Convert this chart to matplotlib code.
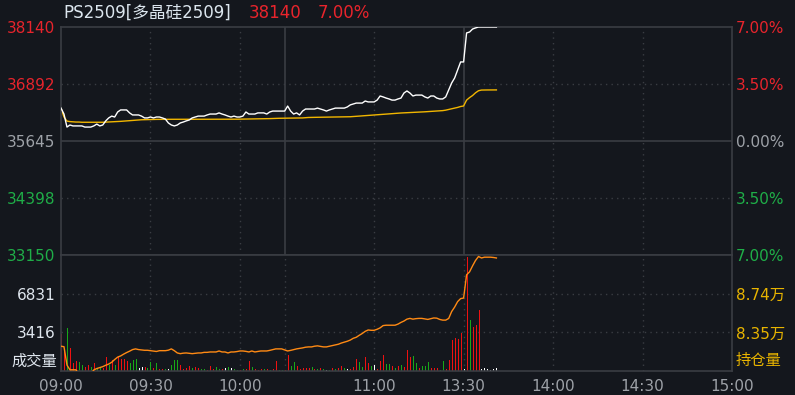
import numpy as np
import matplotlib
matplotlib.use("Agg")
import matplotlib.pyplot as plt

plt.rcParams['font.family'] = ['DejaVu Sans', 'Noto Sans CJK SC']

# 标题信息
title_name = "PS2509[多晶硅2509]"
last_price = "38140"
last_pct = "7.00%"

# 坐标轴刻度
price_ticks = [33150, 34398, 35645, 36892, 38140]
pct_labels = ["7.00%", "3.50%", "0.00%", "3.50%", "7.00%"]
vol_ticks = [3416, 6831]
vol_labels = ["3416", "6831"]
oi_ticks = [83450, 87350]
oi_labels = ["8.35万", "8.74万"]
time_ticks = [0, 30, 60, 105, 135, 165, 195, 225]
time_labels = ["09:00", "09:30", "10:00", "11:00", "13:30", "14:00", "14:30", "15:00"]

# 分时价格 (每分钟)
price = [
    36365, 36235, 35950, 35995, 35975, 35975, 35975, 35975, 35950, 35950,
    35950, 35975, 36015, 35975, 35995, 36085, 36150, 36190, 36170, 36280,
    36325, 36325, 36325, 36260, 36215, 36215, 36215, 36190, 36150, 36150,
    36170, 36150, 36170, 36170, 36150, 36125, 36040, 35995, 35975, 35995,
    36040, 36060, 36085, 36105, 36150, 36170, 36190, 36190, 36190, 36215,
    36235, 36235, 36235, 36260, 36235, 36215, 36190, 36170, 36190, 36170,
    36170, 36190, 36280, 36235, 36235, 36235, 36260, 36260, 36260, 36235,
    36280, 36300, 36300, 36300, 36300, 36300, 36410, 36300, 36235, 36260,
    36215, 36300, 36345, 36345, 36345, 36345, 36365, 36345, 36325, 36300,
    36325, 36345, 36365, 36365, 36365, 36365, 36390, 36435, 36455, 36475,
    36475, 36475, 36520, 36500, 36500, 36500, 36540, 36630, 36610, 36585,
    36565, 36540, 36540, 36565, 36585, 36695, 36740, 36695, 36630, 36650,
    36650, 36650, 36610, 36585, 36630, 36630, 36585, 36565, 36565, 36610,
    36760, 36915, 37025, 37200, 37375, 37375, 38010, 38030, 38095, 38120,
    38140, 38140, 38140, 38140, 38140, 38140, 38140,
]

# 均价
avg_price = [
    36365, 36170, 36080, 36070, 36065, 36060, 36060, 36055, 36055, 36055,
    36055, 36055, 36055, 36055, 36055, 36058, 36062, 36065, 36068, 36070,
    36075, 36080, 36085, 36090, 36095, 36100, 36105, 36110, 36112, 36115,
    36117, 36118, 36118, 36119, 36119, 36120, 36120, 36120, 36120, 36120,
    36120, 36120, 36120, 36120, 36120, 36120, 36120, 36120, 36121, 36121,
    36121, 36121, 36122, 36122, 36122, 36122, 36122, 36122, 36122, 36122,
    36123, 36123, 36123, 36124, 36125, 36126, 36127, 36128, 36130, 36132,
    36135, 36138, 36140, 36142, 36143, 36143, 36145, 36145, 36146, 36147,
    36148, 36150, 36155, 36160, 36162, 36163, 36164, 36165, 36166, 36167,
    36168, 36169, 36170, 36171, 36172, 36173, 36174, 36176, 36180, 36185,
    36190, 36195, 36199, 36205, 36210, 36215, 36220, 36225, 36229, 36235,
    36240, 36245, 36250, 36255, 36258, 36261, 36264, 36266, 36268, 36272,
    36276, 36280, 36284, 36288, 36292, 36296, 36300, 36302, 36310, 36320,
    36335, 36350, 36365, 36380, 36400, 36411, 36540, 36595, 36640, 36700,
    36745, 36760, 36762, 36762, 36763, 36763, 36763,
]

# 成交量
volume = [
    3240, 1800, 3840, 2040, 690, 900, 780, 540, 390, 540,
    390, 690, 240, 390, 240, 1200, 540, 990, 540, 1290,
    1050, 1050, 900, 690, 990, 1080, 240, 390, 390, 240,
    780, 300, 690, 180, 180, 180, 180, 540, 990, 990,
    540, 180, 240, 480, 240, 390, 300, 180, 180, 90,
    450, 150, 330, 150, 180, 300, 390, 300, 150, 90,
    90, 180, 180, 840, 390, 180, 90, 180, 180, 180,
    90, 180, 840, 90, 90, 90, 1440, 450, 780, 450,
    180, 240, 240, 240, 330, 150, 180, 240, 150, 90,
    90, 240, 150, 240, 450, 240, 180, 180, 390, 1080,
    780, 390, 1200, 690, 450, 540, 150, 840, 1440, 630,
    630, 450, 300, 450, 540, 390, 1890, 1200, 1350, 750,
    300, 480, 480, 810, 300, 300, 300, 90, 900, 180,
    990, 2730, 2880, 2790, 3390, 150, 10080, 4500, 3900, 4080,
    5400, 150, 240, 180, 90, 180, 240,
]
# 1 涨, -1 跌, 0 平
vol_dir = [
    1, 1, -1, 1, 1, 1, -1, -1, 1, 1,
    -1, 1, -1, -1, 1, 1, -1, 1, -1, 1,
    1, 1, 1, -1, -1, -1, 0, 0, 1, -1,
    -1, 1, -1, 1, 1, -1, 0, -1, -1, -1,
    1, 1, 1, 1, -1, 1, 1, -1, -1, 1,
    1, 1, -1, -1, 1, 0, -1, 0, -1, -1,
    1, -1, 1, 1, -1, 1, 1, 1, -1, 1,
    -1, 1, 1, -1, -1, 1, 1, -1, -1, 1,
    1, 1, 1, 1, -1, 1, -1, 1, -1, 0,
    -1, 1, -1, 1, 1, -1, 0, 1, 1, 1,
    -1, -1, 1, 1, -1, 0, 1, 1, 1, -1,
    -1, 1, -1, 1, -1, 1, 1, 1, -1, -1,
    1, -1, -1, -1, 1, 1, 1, -1, -1, 1,
    1, 1, 1, 1, 1, 0, 1, -1, 1, 1,
    1, 0, 0, 0, 0, 0, 0,
]

# 持仓量
open_interest = [
    82100, 82050, 80200, 79720, 79720, 79720, 79300, 79300, 79300, 79300,
    79300, 79710, 79850, 79950, 80040, 80180, 80300, 80480, 80760, 81000,
    81120, 81300, 81460, 81600, 81760, 81830, 81760, 81720, 81690, 81690,
    81650, 81600, 81570, 81650, 81650, 81650, 81700, 81830, 81650, 81420,
    81350, 81400, 81420, 81380, 81350, 81380, 81420, 81420, 81480, 81480,
    81520, 81520, 81520, 81620, 81520, 81520, 81420, 81520, 81520, 81560,
    81620, 81620, 81580, 81520, 81620, 81520, 81570, 81620, 81620, 81620,
    81680, 81760, 81830, 81830, 81830, 81725, 81620, 81680, 81760, 81830,
    81880, 81930, 82000, 82030, 82030, 82100, 82136, 82080, 82030, 82030,
    82100, 82180, 82238, 82300, 82420, 82512, 82600, 82720, 82900, 83000,
    83200, 83380, 83600, 83736, 83705, 83705, 83808, 83950, 84180, 84218,
    84218, 84218, 84218, 84330, 84500, 84640, 84830, 84906, 84830, 84880,
    84906, 84906, 84860, 84803, 84880, 84950, 84930, 84800, 84731, 84731,
    84900, 85600, 86050, 86600, 86900, 86958, 89300, 89600, 90200, 90750,
    91150, 91000, 91080, 91080, 91080, 91050, 91000,
]

# 颜色
bg = '#14171d'
line_c = '#3a3d43'
red = '#e8242c'
green = '#1fae48'
gray = '#9ea2a8'
gold = '#e8b400'

fig = plt.figure(figsize=(7.95, 3.95), dpi=100, facecolor=bg)
ax_p = fig.add_axes([61 / 795, 1 - 255 / 395, 671 / 795, 228 / 395], facecolor=bg)
ax_v = fig.add_axes([61 / 795, 1 - 371 / 395, 671 / 795, 116 / 395], facecolor=bg)

x = np.arange(len(price))

# 网格线
dots = (0, (1, 3))
for t in [30, 60, 105, 165, 195]:
    ax_p.axvline(t, color=line_c, lw=1, ls=dots, zorder=0)
for t in [75, 135]:
    ax_p.axvline(t, color=line_c, lw=1.2, zorder=0)
for v in [34398, 36892]:
    ax_p.axhline(v, color=line_c, lw=1, ls=dots, zorder=0)
ax_p.axhline(35645, color=line_c, lw=1.2, zorder=0)
for t in [30, 60, 75, 105, 135, 165, 195]:
    ax_v.axvline(t, color=line_c, lw=1, ls=dots, zorder=0)
for v in vol_ticks:
    ax_v.axhline(v, color=line_c, lw=1, ls=dots, zorder=0)

# 价格与均价
ax_p.plot(x, price, color='white', lw=1.0, zorder=3)
ax_p.plot(x, avg_price, color='#f2b600', lw=1.0, zorder=2)
ax_p.set_xlim(0, 225)
ax_p.set_ylim(33150, 38140)
ax_p.set_xticks([])
ax_p.set_yticks(price_ticks)
ax_p.set_yticklabels([str(v) for v in price_ticks])
ax_p.tick_params(axis='y', length=0, pad=4, labelsize=11)
for lab, c in zip(ax_p.get_yticklabels(), [green, green, gray, red, red]):
    lab.set_color(c)

ax_pr = ax_p.twinx()
ax_pr.set_ylim(33150, 38140)
ax_pr.set_yticks(price_ticks)
ax_pr.set_yticklabels(pct_labels)
ax_pr.tick_params(axis='y', length=0, pad=3, labelsize=11)
for lab, c in zip(ax_pr.get_yticklabels(), [green, green, gray, red, red]):
    lab.set_color(c)

# 成交量
dir_colors = {1: '#ee1111', -1: '#18a818', 0: '#ffffff'}
bar_colors = [dir_colors[d] for d in vol_dir]
ax_v.vlines(x, 0, volume, colors=bar_colors, lw=0.72, antialiased=False, zorder=2)
ax_v.set_xlim(0, 225)
ax_v.set_ylim(0, 10247)
ax_v.set_yticks(vol_ticks)
ax_v.set_yticklabels(vol_labels)
ax_v.set_xticks(time_ticks)
ax_v.set_xticklabels(time_labels)
ax_v.tick_params(axis='y', length=0, pad=4, labelsize=11, labelcolor='#dfe6ee')
ax_v.tick_params(axis='x', length=0, pad=6, labelsize=11, labelcolor=gray)
ax_v.text(-0.006, 10 / 116, '成交量', transform=ax_v.transAxes, ha='right',
          va='center', color='#dfe6ee', fontsize=11)

# 持仓量
ax_o = ax_v.twinx()
ax_o.plot(x, open_interest, color='#ff8a14', lw=1.0)
ax_o.set_ylim(79600, 91300)
ax_o.set_yticks(oi_ticks)
ax_o.set_yticklabels(oi_labels)
ax_o.tick_params(axis='y', length=0, pad=3, labelsize=11, labelcolor=gold)
ax_o.text(1.006, 10 / 116, '持仓量', transform=ax_o.transAxes, ha='left',
          va='center', color=gold, fontsize=11)

for a in [ax_p, ax_v]:
    for s in a.spines.values():
        s.set_color(line_c)
        s.set_linewidth(1.2)
for a in [ax_pr, ax_o]:
    for s in a.spines.values():
        s.set_visible(False)

# 标题
fig.text(63 / 795, 1 - 13 / 395, title_name, color='#dce6ee', fontsize=12,
         ha='left', va='center')
fig.text(249 / 795, 1 - 13 / 395, last_price, color=red, fontsize=12,
         ha='left', va='center')
fig.text(318 / 795, 1 - 13 / 395, last_pct, color=red, fontsize=12,
         ha='left', va='center')

fig.savefig('out.png', dpi=100, facecolor=bg)
